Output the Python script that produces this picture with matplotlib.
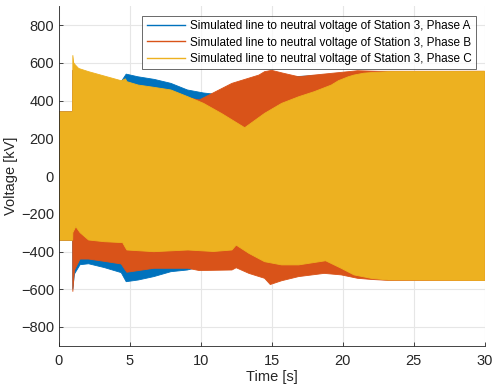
import matplotlib
matplotlib.use("Agg")
import matplotlib.pyplot as plt
from matplotlib.lines import Line2D

plt.rcParams["font.family"] = ["Liberation Sans", "DejaVu Sans"]

# Envelope of the line-to-neutral voltage of each phase (time in s, kV)
phase_a_upper_t = [0, 0.98, 0.99, 1.4, 4.4, 4.75, 5.57, 6.73, 7.9, 9.06, 10.2, 10.9, 11.5, 13, 15, 20, 23.2, 30]
phase_a_upper_v = [340, 340, 560, 540, 500, 540, 526, 512, 491, 456, 440, 434, 430, 480, 520, 540, 553, 553]
phase_a_lower_t = [0, 0.98, 0.99, 1.1, 1.5, 2.1, 3.2, 4.4, 4.75, 5.6, 6.7, 7.9, 9.06, 10, 13, 15, 20, 23.2, 30]
phase_a_lower_v = [-340, -340, -600, -520, -470, -465, -485, -512, -560, -551, -533, -507, -498, -480, -470, -500, -500, -545, -550]

phase_b_upper_t = [0, 0.98, 0.99, 1.4, 4.4, 9.9, 12.2, 14.1, 14.5, 15.0, 15.8, 16.9, 18.0, 19.2, 20.4, 21.05, 22.5, 30]
phase_b_upper_v = [340, 340, 560, 540, 480, 403, 491, 535, 553, 560, 545, 526, 535, 544, 553, 558, 555, 555]
phase_b_lower_t = [0, 0.98, 0.99, 1.1, 1.5, 2.1, 3.2, 4.4, 4.7, 4.8, 6.7, 9.1, 9.9, 12.2, 12.5, 13.4, 14.5, 14.9, 15.7, 16.9, 18.7, 19.9, 21.05, 22.0, 23.2, 30]
phase_b_lower_v = [-340, -340, -613, -500, -440, -440, -452, -466, -500, -510, -489, -489, -501, -498, -486, -516, -542, -575, -555, -533, -516, -524, -542, -548, -553, -553]

phase_c_upper_t = [0, 0.98, 0.99, 1.05, 1.15, 1.4, 2.1, 3.2, 4.4, 4.7, 4.8, 5.6, 6.7, 7.9, 9.1, 10.2, 11.5, 13.1, 14.5, 15.7, 16.9, 18.0, 19.2, 19.7, 20.4, 20.8, 21.5, 22.0, 23.2, 30]
phase_c_upper_v = [340, 340, 640, 600, 590, 570, 553, 530, 505, 515, 500, 482, 470, 456, 420, 385, 330, 256, 332, 385, 420, 447, 482, 505, 526, 535, 545, 548, 553, 555]
phase_c_lower_t = [0, 0.98, 0.99, 1.2, 1.5, 2.1, 3.2, 4.5, 4.7, 4.8, 6.7, 9.1, 10.9, 12.2, 12.5, 13.4, 14.5, 15.7, 16.9, 18.8, 19.9, 20.8, 22.0, 23.2, 30]
phase_c_lower_v = [-340, -340, -300, -268, -300, -339, -348, -353, -380, -392, -401, -392, -400, -392, -366, -410, -454, -471, -471, -449, -489, -524, -542, -551, -553]

labels = [
    "Simulated line to neutral voltage of Station 3, Phase A",
    "Simulated line to neutral voltage of Station 3, Phase B",
    "Simulated line to neutral voltage of Station 3, Phase C",
]
colors = ["#0072BD", "#D95319", "#EDB120"]

x_ticks = [0, 5, 10, 15, 20, 25, 30]
y_ticks = [-800, -600, -400, -200, 0, 200, 400, 600, 800]


def fill_phase(ax, ut, uv, lt, lv, color):
    # combine the two envelopes into one closed band
    xs = list(ut) + list(lt)[::-1]
    ys = list(uv) + list(lv)[::-1]
    ax.fill(xs, ys, color=color, linewidth=0.6, edgecolor=color)


fig = plt.figure(figsize=(4.94, 3.86), dpi=100)
ax = fig.add_axes([0.119, 0.104, 0.862, 0.88])

fill_phase(ax, phase_a_upper_t, phase_a_upper_v, phase_a_lower_t, phase_a_lower_v, colors[0])
fill_phase(ax, phase_b_upper_t, phase_b_upper_v, phase_b_lower_t, phase_b_lower_v, colors[1])
fill_phase(ax, phase_c_upper_t, phase_c_upper_v, phase_c_lower_t, phase_c_lower_v, colors[2])

ax.set_xlim(0, 30)
ax.set_ylim(-900, 900)
ax.set_xticks(x_ticks)
ax.set_yticks(y_ticks)
ax.grid(True, color="#e6e6e6", linewidth=0.8)
ax.set_axisbelow(True)
for side in ("top", "right"):
    ax.spines[side].set_visible(False)
for side in ("left", "bottom"):
    ax.spines[side].set_color("#262626")
    ax.spines[side].set_linewidth(0.6)
ax.tick_params(direction="in", length=3, width=0.6, colors="#262626", labelsize=10.5)
ax.tick_params(axis="x", pad=6)
ax.set_xlabel("Time [s]", fontsize=10.5, color="#262626", labelpad=1)
ax.set_ylabel("Voltage [kV]", fontsize=10.5, color="#262626", labelpad=2)

handles = [Line2D([0], [0], color=c, linewidth=1.0) for c in colors]
leg = ax.legend(handles, labels, loc="upper right", bbox_to_anchor=(0.98, 0.97),
                fontsize=8.5, frameon=True, fancybox=False, handlelength=3.3,
                handletextpad=0.4, borderpad=0.35, labelspacing=0.35, borderaxespad=0)
leg.get_frame().set_edgecolor("#262626")
leg.get_frame().set_linewidth(0.6)

fig.savefig("out.png", dpi=100)
